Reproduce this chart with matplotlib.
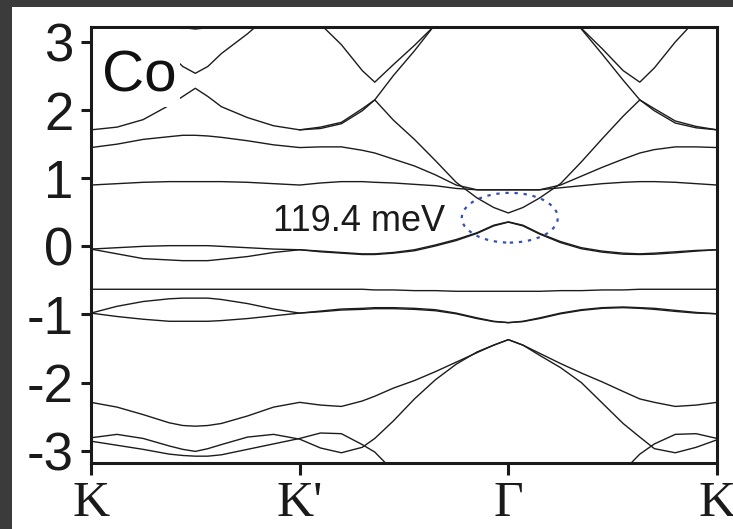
import numpy as np
import matplotlib
matplotlib.use('Agg')
import matplotlib.pyplot as plt
from matplotlib.patches import Ellipse, Rectangle

nan = np.nan

# k path: K -> K' -> Gamma -> K
k = [0, 0.125, 0.25, 0.375, 0.44, 0.5, 0.56, 0.625, 0.75, 0.875, 1.0,
     1.1, 1.2, 1.3, 1.36, 1.45, 1.55, 1.65, 1.75, 1.85, 1.93, 2.0,
     2.07, 2.15, 2.25, 2.35, 2.45, 2.55, 2.63, 2.7, 2.8, 2.9, 3.0]

# bands (eV)
top_k = [nan, nan, nan, 3.32, 3.21, 3.19, 3.21, 3.32, nan, nan, nan,
         nan, nan, nan, nan, nan, nan, nan, nan, nan, nan, nan,
         nan, nan, nan, nan, nan, nan, nan, nan, nan, nan, nan]
v_kk = [nan, 3.45, 3.12, 2.83, 2.64, 2.54, 2.64, 2.83, 3.12, 3.45, nan,
        nan, nan, nan, nan, nan, nan, nan, nan, nan, nan, nan,
        nan, nan, nan, nan, nan, nan, nan, nan, nan, nan, nan]
v_left = [nan, nan, nan, nan, nan, nan, nan, nan, nan, nan, 3.62,
          3.26, 2.96, 2.58, 2.41, 2.67, 2.95, 3.25, 3.6, nan, nan, nan,
          nan, nan, nan, nan, nan, nan, nan, nan, nan, nan, nan]
v_right = [nan, nan, nan, nan, nan, nan, nan, nan, nan, nan, nan,
           nan, nan, nan, nan, nan, nan, nan, nan, nan, nan, nan,
           nan, nan, 3.47, 3.2, 2.9, 2.58, 2.41, 2.62, 3.0, 3.33, 3.7]
a1 = [1.71, 1.75, 1.86, 2.07, 2.2, 2.32, 2.2, 2.05, 1.89, 1.77, 1.71,
      1.75, 1.82, 2.02, 2.15, 2.51, 2.87, 3.26, 3.65, nan, nan, nan,
      nan, nan, nan, nan, nan, nan, nan, nan, nan, nan, nan]
cone_up = [nan, nan, nan, nan, nan, nan, nan, nan, nan, nan, 1.71,
           1.73, 1.80, 1.99, 2.15, 1.85, 1.57, 1.26, 0.94, 0.71, 0.57, 0.49,
           0.57, 0.71, 0.92, 1.24, 1.58, 1.91, 2.15, 1.99, 1.81, 1.74, 1.71]
p3 = [nan, nan, nan, nan, nan, nan, nan, nan, nan, nan, nan,
      nan, nan, nan, nan, nan, nan, nan, nan, nan, nan, nan,
      nan, nan, 3.56, 3.19, 2.82, 2.44, 2.15, 2.02, 1.84, 1.76, 1.71]
b1 = [1.45, 1.5, 1.57, 1.61, 1.63, 1.63, 1.62, 1.6, 1.55, 1.49, 1.45,
      1.46, 1.46, 1.41, 1.37, 1.28, 1.18, 1.05, 0.9, 0.83, 0.83, 0.83,
      0.83, 0.83, 0.9, 1.03, 1.16, 1.28, 1.37, 1.42, 1.46, 1.46, 1.45]
c1 = [0.9, 0.92, 0.94, 0.95, 0.95, 0.95, 0.95, 0.95, 0.94, 0.92, 0.9,
      0.93, 0.95, 0.95, 0.94, 0.93, 0.91, 0.89, 0.85, 0.83, 0.83, 0.83,
      0.83, 0.83, 0.86, 0.89, 0.92, 0.94, 0.95, 0.95, 0.94, 0.92, 0.9]
d1 = [-0.04, -0.02, 0.0, 0.01, 0.01, 0.01, 0.01, 0.0, -0.02, -0.04, -0.05,
      -0.07, -0.09, -0.11, -0.11, -0.09, -0.05, 0.02, 0.1, 0.2, 0.31, 0.36,
      0.31, 0.19, 0.07, -0.02, -0.07, -0.1, -0.11, -0.1, -0.08, -0.06, -0.05]
d2 = [-0.04, -0.11, -0.18, -0.2, -0.21, -0.21, -0.21, -0.19, -0.15, -0.09, -0.05,
      -0.08, -0.1, -0.12, -0.12, -0.1, -0.065, 0.005, 0.085, 0.19, 0.3, 0.355,
      0.3, 0.18, 0.055, -0.035, -0.085, -0.115, -0.12, -0.115, -0.095, -0.07, -0.05]
flat = [-0.63, -0.63, -0.63, -0.63, -0.63, -0.63, -0.63, -0.63, -0.63, -0.63, -0.63,
        -0.63, -0.63, -0.63, -0.64, -0.64, -0.65, -0.65, -0.66, -0.66, -0.66, -0.66,
        -0.66, -0.66, -0.65, -0.65, -0.64, -0.64, -0.63, -0.63, -0.63, -0.63, -0.63]
g1 = [-0.98, -0.88, -0.81, -0.77, -0.76, -0.76, -0.76, -0.78, -0.84, -0.92, -0.98,
      -0.95, -0.92, -0.91, -0.9, -0.9, -0.91, -0.93, -0.98, -1.05, -1.1, -1.12,
      -1.1, -1.05, -0.98, -0.93, -0.9, -0.89, -0.9, -0.91, -0.94, -0.97, -0.99]
g2 = [-0.98, -1.03, -1.07, -1.1, -1.1, -1.1, -1.1, -1.09, -1.06, -1.02, -0.98,
      -0.96, -0.935, -0.925, -0.915, -0.915, -0.925, -0.945, -0.99, -1.06, -1.105, -1.12,
      -1.105, -1.06, -0.99, -0.94, -0.91, -0.9, -0.91, -0.925, -0.955, -0.98, -0.99]
h1 = [-2.29, -2.36, -2.47, -2.59, -2.63, -2.64, -2.63, -2.6, -2.49, -2.36, -2.29,
      -2.33, -2.35, -2.27, -2.2, -2.08, -1.97, -1.84, -1.7, -1.56, -1.45, -1.37,
      -1.45, -1.57, -1.72, -1.86, -1.99, -2.13, -2.24, -2.29, -2.35, -2.33, -2.29]
h2 = [-2.81, -2.76, -2.82, -2.93, -2.98, -3.01, -2.97, -2.91, -2.8, -2.76, -2.83,
      -2.96, -3.03, -2.95, -2.82, -2.56, -2.24, -1.96, -1.73, -1.55, -1.45, -1.37,
      -1.45, -1.6, -1.78, -2.0, -2.3, -2.6, -2.8, -2.97, -3.03, -2.95, -2.84]
h3 = [-2.86, -2.92, -2.98, -3.05, -3.07, -3.08, -3.08, -3.06, -2.98, -2.9, -2.82,
      -2.74, -2.75, -2.91, -3.02, -3.3, nan, nan, nan, nan, nan, nan,
      nan, nan, nan, nan, nan, -3.3, -3.05, -2.9, -2.76, -2.75, -2.82]

tick_pos = [0, 1, 2, 3]
tick_names = ['K', "K'", 'Γ', 'K']
e_ticks = [-3, -2, -1, 0, 1, 2, 3]

plt.rcParams['axes.unicode_minus'] = False

fig = plt.figure(figsize=(7.33, 5.29), dpi=100, facecolor='#3b3b3b')
# white sheet, dark strip left and top
sheet = Rectangle((12 / 733, 0), 1 - 12 / 733, 1 - 7 / 529,
                  transform=fig.transFigure, fc='white', ec='none', zorder=-10)
fig.add_artist(sheet)

ax = fig.add_axes([0.1241, 0.1248, 0.8541, 0.8242])
ax.set_facecolor('white')

for band in [top_k, v_kk, v_left, v_right, a1, cone_up, p3, b1, c1,
             d1, d2, flat, g1, g2, h1, h2, h3]:
    ax.plot(k, band, color='#1c1c1c', lw=1.0, zorder=2)

# gap marker
ax.add_patch(Ellipse((2.007, 0.42), 0.46, 0.73, fill=False, ec='#3550b0',
                     lw=1.6, ls=(0, (1.5, 2.6)), zorder=3))
ax.text(0.87, 0.22, '119.4 meV', fontsize=26, family='Liberation Sans',
        color='#1a1a1a', va='baseline', zorder=4)

# Co label on white box
ax.add_patch(Rectangle((0.006, 0.8165), 0.136, 0.18, transform=ax.transAxes,
                       fc='white', ec='none', zorder=3))
ax.text(0.0176, 0.851, 'Co', transform=ax.transAxes, fontsize=42,
        family='Liberation Sans', color='#111111', va='baseline', zorder=4)

ax.set_xlim(0, 3)
ax.set_ylim(-3.18, 3.22)
ax.set_xticks(tick_pos)
ax.set_xticklabels(tick_names, family='Liberation Serif', fontsize=37)
ax.set_yticks(e_ticks)
ax.set_yticklabels([str(v) for v in e_ticks], family='Liberation Sans', fontsize=38)

for sp in ax.spines.values():
    sp.set_linewidth(2.2)
    sp.set_color('#1a1a1a')
ax.tick_params(axis='y', direction='out', length=7.5, width=2.2, pad=5,
               colors='#1a1a1a')
ax.tick_params(axis='x', direction='out', length=8.5, width=2.2, pad=4,
               colors='#1a1a1a')

fig.savefig('out.png', dpi=100, facecolor=fig.get_facecolor())
